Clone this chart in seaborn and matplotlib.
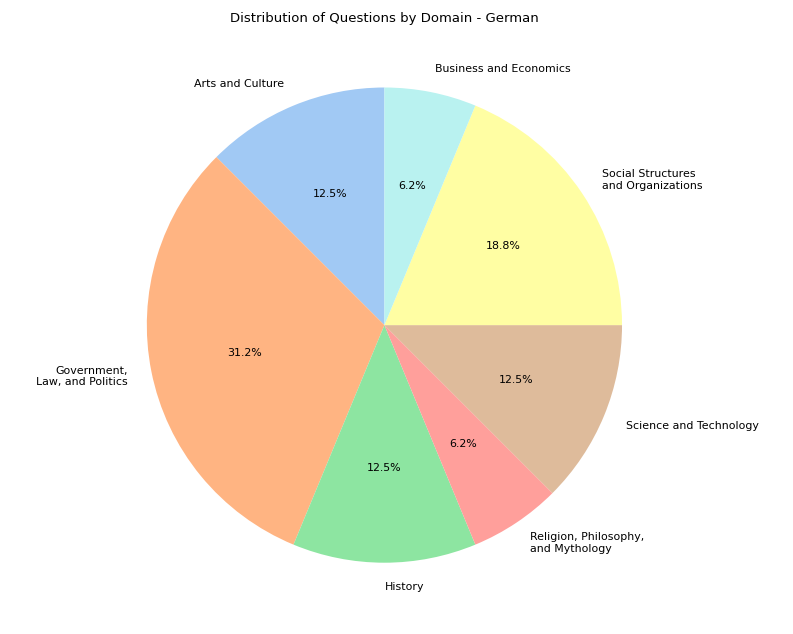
import matplotlib
matplotlib.use("Agg")
import matplotlib.pyplot as plt
import seaborn as sns

categories = ["Arts and Culture", "Government,\nLaw, and Politics", "History",
              "Religion, Philosophy,\nand Mythology", "Science and Technology",
              "Social Structures\nand Organizations", "Business and Economics"]
counts = [2, 5, 2, 1, 2, 3, 1]
palette_idx = [0, 1, 2, 3, 5, 8, 9]

pal = sns.color_palette("pastel", 10)
colors = [pal[i] for i in palette_idx]

fig, ax = plt.subplots(figsize=(10, 8), dpi=79.3)
ax.pie(counts, labels=categories, colors=colors, autopct="%1.1f%%", startangle=90)
ax.set_title("Distribution of Questions by Domain - German", fontsize=12)
plt.tight_layout()
fig.savefig("out.png", dpi=79.3)
